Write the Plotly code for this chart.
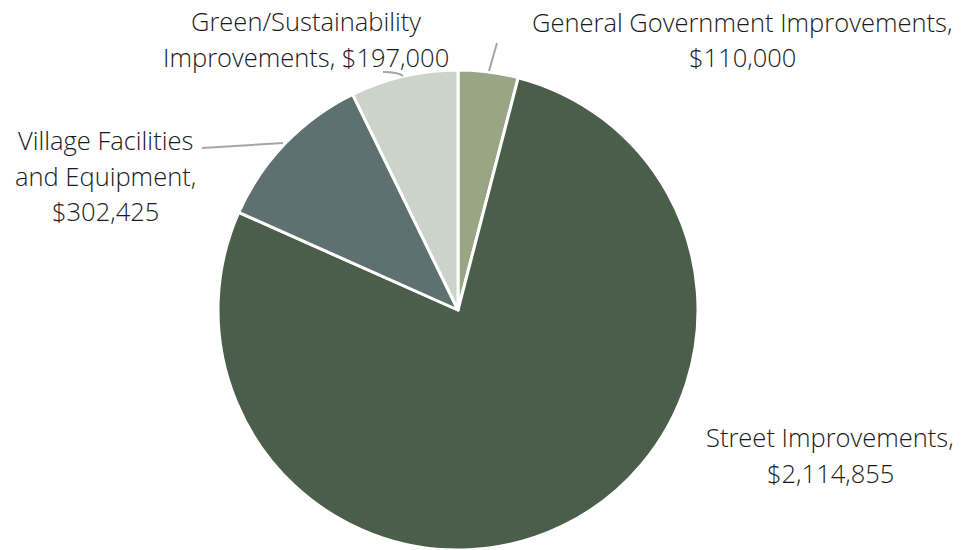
import plotly.graph_objects as go

# Capital budget by category
categories = ["General Government Improvements", "Street Improvements",
              "Village Facilities and Equipment", "Green/Sustainability Improvements"]
amounts = [110000, 2114855, 302425, 197000]
colors = ["#98A686", "#4B5E4A", "#5E7070", "#CCD3C9"]

# label text, split in lines as in the picture
label_lines = [
    ["General Government Improvements,", "$110,000"],
    ["Street Improvements,", "$2,114,855"],
    ["Village Facilities", "and Equipment,", "$302,425"],
    ["Green/Sustainability", "Improvements, $197,000"],
]

W, H = 967, 550
# where each label block is centred (px) and its first line y
label_pos = [(742, 22), (830, 437), (105, 140), (306, 21)]
line_gap = 35.5

fig = go.Figure(go.Pie(
    labels=categories, values=amounts,
    marker=dict(colors=colors, line=dict(color="white", width=3)),
    sort=False, direction="clockwise", rotation=0,
    textinfo="none", hoverinfo="label+value", showlegend=False,
    domain=dict(x=[218 / W, 698 / W], y=[0, 480 / H]),
))

for lines, (cx, y0) in zip(label_lines, label_pos):
    for i, txt in enumerate(lines):
        fig.add_annotation(x=cx / W, y=1 - (y0 + i * line_gap) / H,
                           xref="paper", yref="paper", text=txt, showarrow=False,
                           xanchor="center", yanchor="middle",
                           font=dict(family="Open Sans", size=25.5, weight=350, color="#1a1a1a"))

# leader lines
grey = dict(color="#A6A6A6", width=2)
fig.add_shape(type="line", xref="paper", yref="paper",
              x0=497 / W, y0=1 - 43 / H, x1=489 / W, y1=1 - 71 / H, line=grey)
fig.add_shape(type="line", xref="paper", yref="paper",
              x0=202 / W, y0=1 - 148 / H, x1=283 / W, y1=1 - 143 / H, line=grey)
fig.add_shape(type="path", xref="paper", yref="paper",
              path=f"M {383 / W} {1 - 72 / H} Q {398 / W} {1 - 72 / H} {403 / W} {1 - 76 / H}",
              line=grey)

fig.update_layout(width=W, height=H, margin=dict(l=0, r=0, t=0, b=0),
                  paper_bgcolor="white", plot_bgcolor="white")
fig.write_html("out.html", config={"displayModeBar": False},
               post_script="document.body.style.margin='0';")
